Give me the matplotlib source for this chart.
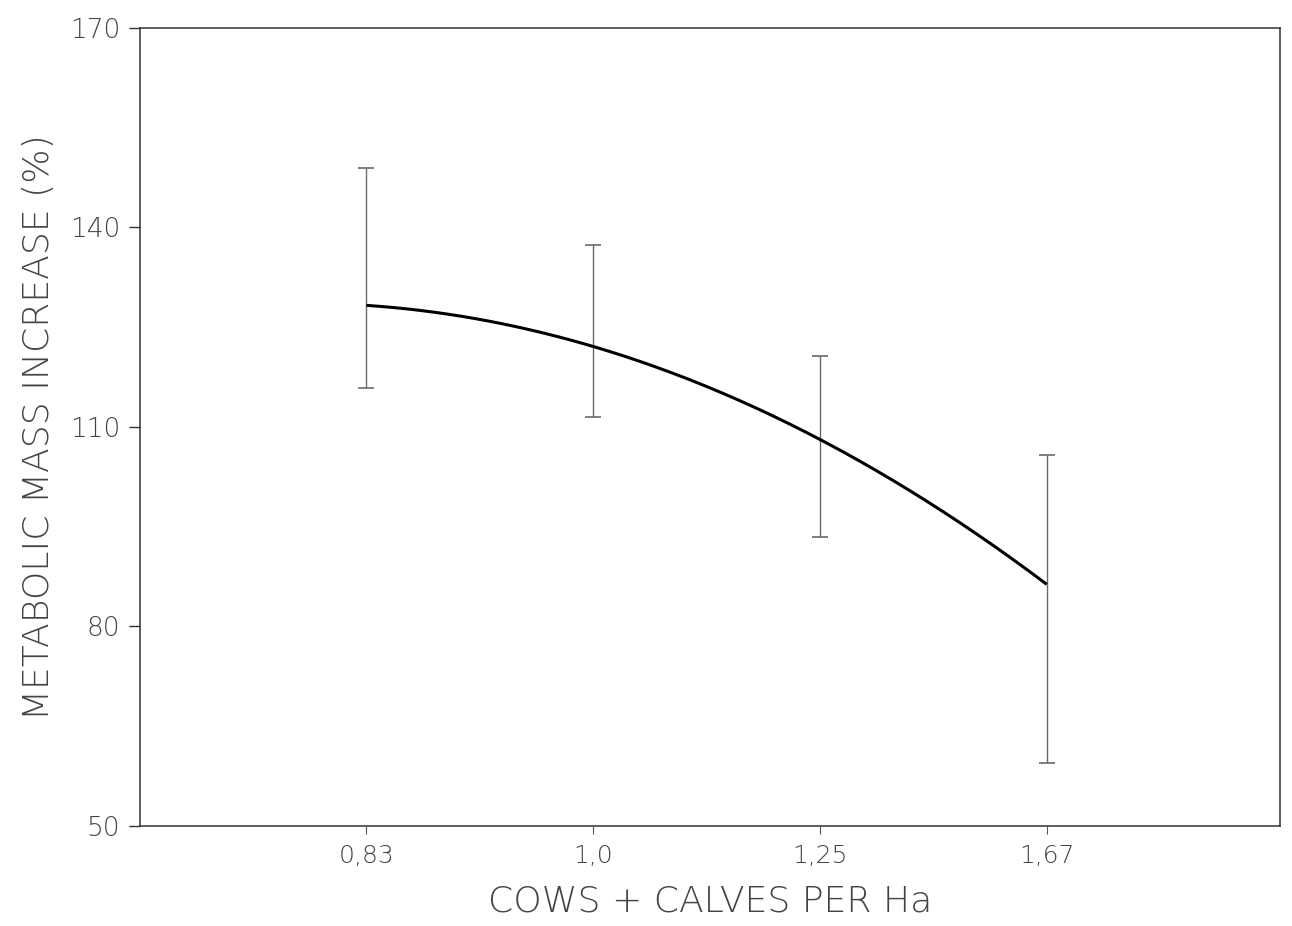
import numpy as np
import matplotlib.pyplot as plt

# stocking rate groups (cows + calves per ha)
rates = ["0,83", "1,0", "1,25", "1,67"]
# group means and standard deviations of metabolic mass increase (%)
means = [132.4, 124.4, 107.0, 82.6]
sds = [16.5, 12.9, 13.6, 23.1]
# regression estimates at each stocking rate
fitted = [128.2, 122.3, 107.9, 86.4]

yticks = [50, 80, 110, 140, 170]

txt = "#444444"
plt.rcParams["font.family"] = ["DejaVu Sans"]

fig = plt.figure(figsize=(12.92, 9.26), dpi=100)
ax = fig.add_axes([0.108, 0.108, 0.883, 0.862])

pos = np.arange(1, len(rates) + 1)

# error bars (mean +- sd)
ax.errorbar(pos, means, yerr=sds, fmt="none", ecolor="#6a6a6a",
            elinewidth=1.0, capsize=6, capthick=1.2)

# smooth regression curve through the fitted values
coef = np.polyfit(pos, fitted, 2)
xs = np.linspace(pos[0], pos[-1], 200)
ax.plot(xs, np.polyval(coef, xs), color="black", lw=2.2, solid_capstyle="butt")

ax.set_xlim(0, 5.03)
ax.set_ylim(50, 170)
ax.set_xticks(pos)
ax.set_xticklabels(rates)
ax.set_yticks(yticks)

for sp in ax.spines.values():
    sp.set_color("#333333")
    sp.set_linewidth(1.1)

ax.tick_params(axis="y", direction="out", length=8, width=1.0, color="#333333",
               pad=6, labelsize=19, labelcolor=txt)
ax.tick_params(axis="x", direction="out", length=6, width=0.8, color="#555555",
               pad=7, labelsize=18, labelcolor=txt)
for lab in ax.get_xticklabels() + ax.get_yticklabels():
    lab.set_fontweight("light")

ax.set_xlabel("COWS + CALVES PER Ha", fontsize=26, color=txt,
              fontweight="light", labelpad=12)
ax.set_ylabel("METABOLIC MASS INCREASE (%)", fontsize=26, color=txt,
              fontweight="light", labelpad=10)

fig.savefig("out.png", dpi=100)
